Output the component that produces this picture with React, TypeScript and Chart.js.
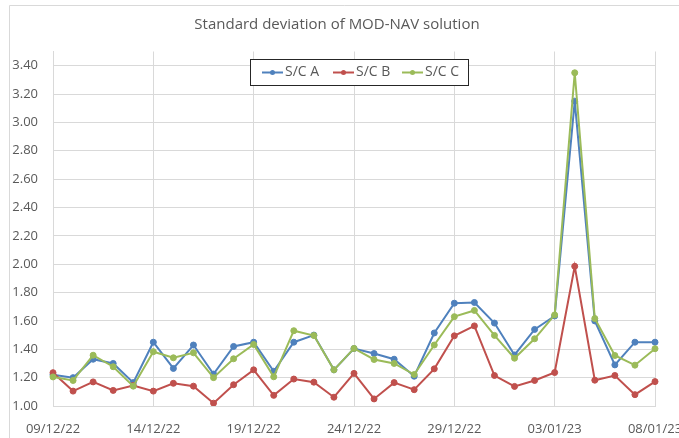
import React, { useEffect, useRef } from "react";
import { Chart, registerables } from "chart.js";

Chart.register(...registerables);

const dateLabels = [
  "09/12/22", "10/12/22", "11/12/22", "12/12/22", "13/12/22", "14/12/22", "15/12/22", "16/12/22",
  "17/12/22", "18/12/22", "19/12/22", "20/12/22", "21/12/22", "22/12/22", "23/12/22", "24/12/22",
  "25/12/22", "26/12/22", "27/12/22", "28/12/22", "29/12/22", "30/12/22", "31/12/22", "01/01/23",
  "02/01/23", "03/01/23", "04/01/23", "05/01/23", "06/01/23", "07/01/23", "08/01/23",
];

const scA = [1.22, 1.2, 1.33, 1.3, 1.165, 1.45, 1.265, 1.43, 1.225, 1.42, 1.45, 1.245, 1.45, 1.5, 1.255, 1.405,
  1.37, 1.33, 1.21, 1.515, 1.725, 1.73, 1.585, 1.36, 1.54, 1.635, 3.15, 1.6, 1.29, 1.45, 1.45];
const scB = [1.235, 1.105, 1.17, 1.11, 1.145, 1.105, 1.16, 1.14, 1.02, 1.15, 1.255, 1.075, 1.19, 1.168, 1.062, 1.23,
  1.05, 1.165, 1.115, 1.262, 1.495, 1.565, 1.215, 1.138, 1.18, 1.236, 1.985, 1.182, 1.215, 1.08, 1.172];
const scC = [1.205, 1.18, 1.358, 1.277, 1.14, 1.383, 1.34, 1.375, 1.2, 1.333, 1.434, 1.206, 1.531, 1.497, 1.255, 1.406,
  1.328, 1.3, 1.222, 1.43, 1.63, 1.674, 1.498, 1.337, 1.474, 1.642, 3.35, 1.617, 1.356, 1.288, 1.404];

const seriesNames = ["S/C A", "S/C B", "S/C C"];
const seriesColors = ["#4F81BD", "#C0504D", "#9BBB59"];
const titleText = "Standard deviation of MOD-NAV solution";
const FONT = "'Open Sans', 'Noto Sans', sans-serif";
const TEXT_COLOR = "#595959";
const GRID_COLOR = "#d9d9d9";

const decorPlugin = {
  id: "decor",
  beforeDraw(chart: any) {
    const ctx = chart.ctx;
    ctx.save();
    ctx.fillStyle = "#ffffff";
    ctx.fillRect(0, 0, chart.width, chart.height);
    ctx.strokeStyle = GRID_COLOR;
    ctx.lineWidth = 1;
    ctx.beginPath();
    ctx.moveTo(9.5, chart.height);
    ctx.lineTo(9.5, 5.5);
    ctx.lineTo(chart.width, 5.5);
    ctx.stroke();
    ctx.fillStyle = TEXT_COLOR;
    ctx.font = `15px ${FONT}`;
    ctx.textAlign = "center";
    ctx.textBaseline = "middle";
    ctx.fillText(titleText, 337, 25);
    ctx.restore();
  },
  afterDraw(chart: any) {
    const ctx = chart.ctx;
    ctx.save();
    const bx = 250.5, by = 59.5, bw = 218, bh = 26;
    ctx.fillStyle = "#ffffff";
    ctx.fillRect(bx, by, bw, bh);
    ctx.strokeStyle = "#262626";
    ctx.lineWidth = 1;
    ctx.strokeRect(bx, by, bw, bh);
    const cy = by + bh / 2;
    const starts = [262, 333, 402];
    ctx.font = `14px ${FONT}`;
    ctx.textBaseline = "middle";
    ctx.textAlign = "left";
    seriesNames.forEach((name, i) => {
      const x0 = starts[i];
      ctx.strokeStyle = seriesColors[i];
      ctx.lineWidth = 2;
      ctx.beginPath();
      ctx.moveTo(x0, cy);
      ctx.lineTo(x0 + 21, cy);
      ctx.stroke();
      ctx.fillStyle = seriesColors[i];
      ctx.beginPath();
      ctx.arc(x0 + 10.5, cy, 2.5, 0, Math.PI * 2);
      ctx.fill();
      ctx.fillStyle = TEXT_COLOR;
      ctx.fillText(name, x0 + 23, cy);
    });
    ctx.restore();
  },
};

export default function App() {
  const canvasRef = useRef<HTMLCanvasElement | null>(null);

  useEffect(() => {
    if (!canvasRef.current) return;
    const mk = (i: number, data: number[], order: number) => ({
      label: seriesNames[i],
      data,
      borderColor: seriesColors[i],
      backgroundColor: seriesColors[i],
      pointBackgroundColor: seriesColors[i],
      pointBorderColor: seriesColors[i],
      borderWidth: 2,
      pointRadius: 3,
      pointBorderWidth: 1,
      tension: 0,
      order,
    });
    const chart = new Chart(canvasRef.current, {
      type: "line",
      data: {
        labels: dateLabels,
        datasets: [mk(0, scA, 3), mk(1, scB, 2), mk(2, scC, 1)],
      },
      plugins: [decorPlugin],
      options: {
        animation: false,
        responsive: false,
        layout: { padding: { left: 9, right: 24, top: 51.5, bottom: 0 } },
        plugins: {
          legend: { display: false },
          title: { display: false },
          tooltip: { enabled: false },
        },
        scales: {
          x: {
            type: "category",
            offset: false,
            grid: {
              color: (c: any) => (c.index % 5 === 0 ? GRID_COLOR : "rgba(0,0,0,0)"),
              drawTicks: false,
              lineWidth: 1,
            },
            border: { color: GRID_COLOR },
            ticks: {
              autoSkip: false,
              maxRotation: 0,
              minRotation: 0,
              padding: 15,
              color: TEXT_COLOR,
              font: { family: FONT, size: 13 },
              callback: (_v: any, i: number) => (i % 5 === 0 ? dateLabels[i] : ""),
            },
            afterFit: (s: any) => {
              s.height = 32;
              s.paddingLeft = 0;
              s.paddingRight = 0;
            },
          },
          y: {
            type: "linear",
            min: 1,
            max: 3.5,
            grid: { color: GRID_COLOR, drawTicks: false },
            border: { color: GRID_COLOR },
            ticks: {
              stepSize: 0.2,
              includeBounds: false,
              padding: 15,
              color: TEXT_COLOR,
              font: { family: FONT, size: 13 },
              callback: (v: any) => Number(v).toFixed(2),
            },
            afterFit: (s: any) => {
              s.width = 44;
              s.paddingTop = 0;
              s.paddingBottom = 0;
            },
          },
        },
      },
    } as any);
    return () => chart.destroy();
  }, []);

  return (
    <div style={{ position: "fixed", left: 0, top: 0, width: 679, height: 438, background: "#fff" }}>
      <canvas ref={canvasRef} width={679} height={438} style={{ display: "block" }} />
    </div>
  );
}
